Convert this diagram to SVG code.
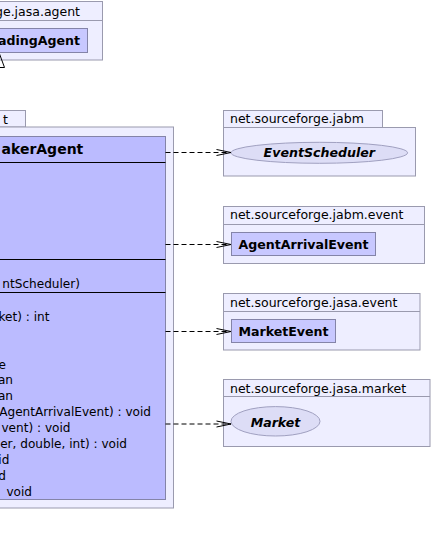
<svg xmlns="http://www.w3.org/2000/svg" width="433" height="546" viewBox="0 0 433 546">
<defs>
<style>
.pkg{fill:#EEEEFF;stroke:#9A9AAE;stroke-width:1}
.cls{fill:#BBBBFF;stroke:#8484A8;stroke-width:1}
.scls{fill:#C8C8FF;stroke:#8484A8;stroke-width:1}
.ell{fill:#DDDDF6;stroke:#A0A0C0;stroke-width:1}
.sep{stroke:#000;stroke-width:1}
.plabel{font-family:"DejaVu Sans",sans-serif;font-size:12.5px;fill:#000}
.cname{font-family:"DejaVu Sans",sans-serif;font-size:12.6px;font-weight:bold;fill:#000}
.iname{font-family:"DejaVu Sans",sans-serif;font-size:12.6px;font-weight:bold;font-style:italic;fill:#000}
.bname{font-family:"DejaVu Sans",sans-serif;font-size:14px;font-weight:bold;fill:#000}
.mem{font-family:"DejaVu Sans",sans-serif;font-size:12.1px;fill:#000;text-anchor:end}
.dep{stroke:#000;stroke-width:1;stroke-dasharray:5,3;fill:none}
</style>
<marker id="open" viewBox="0 0 16 8" refX="15" refY="4" markerWidth="16" markerHeight="8" markerUnits="userSpaceOnUse" orient="auto">
<path d="M0.5,1 L15,4 L0.5,7" fill="none" stroke="#000" stroke-width="1"/>
</marker>
</defs>

<g id="pkg-jasa-agent">
<rect class="pkg" x="-10" y="1.5" width="112.5" height="58.5"/>
<line class="pkg" x1="-10" y1="20.5" x2="102.5" y2="20.5"/>
<text class="plabel" x="80" y="15.5" text-anchor="end">ge.jasa.agent</text>
</g>
<g id="TradingAgent">
<rect class="scls" x="-10" y="28.5" width="97.5" height="24"/>
<text class="cname" x="80" y="45" text-anchor="end">adingAgent</text>
</g>

<g id="pkg-left">
<rect class="pkg" x="-10" y="110.5" width="35.5" height="16.5"/>
<rect class="pkg" x="-10" y="127" width="183.5" height="381"/>
<text class="plabel" x="8" y="124" text-anchor="end">t</text>
</g>
<g id="MarketMakerAgent">
<rect class="cls" x="-10" y="136.5" width="175.5" height="363"/>
<line class="sep" x1="-10" y1="162.5" x2="165.5" y2="162.5"/>
<line class="sep" x1="-10" y1="259.5" x2="165.5" y2="259.5"/>
<line class="sep" x1="-10" y1="292.5" x2="165.5" y2="292.5"/>
<text class="bname" x="83.3" y="154" text-anchor="end">akerAgent</text>
<text class="mem" x="80" y="288">ntScheduler)</text>
<text class="mem" x="49.5" y="320.8">ket) : int</text>
<text class="mem" x="6" y="368.5">e</text>
<text class="mem" x="13" y="384.4">an</text>
<text class="mem" x="13" y="400.3">an</text>
<text class="mem" x="151" y="416.2">(AgentArrivalEvent) : void</text>
<text class="mem" x="70.5" y="432.1">vent) : void</text>
<text class="mem" x="127" y="448">er, double, int) : void</text>
<text class="mem" x="9.3" y="463.9">id</text>
<text class="mem" x="6" y="479.8">d</text>
<text class="mem" x="32" y="495.7">void</text>
</g>

<g id="pkg-jabm">
<rect class="pkg" x="223.5" y="110.5" width="159" height="17"/>
<rect class="pkg" x="223.5" y="127.5" width="192" height="48.5"/>
<text class="plabel" x="230" y="123">net.sourceforge.jabm</text>
</g>
<g id="EventScheduler">
<ellipse class="ell" cx="319.3" cy="152.8" rx="88.3" ry="10.5"/>
<text class="iname" x="319.3" y="157" text-anchor="middle">EventScheduler</text>
</g>

<g id="pkg-jabm-event">
<rect class="pkg" x="223.5" y="206.5" width="201" height="57"/>
<line class="pkg" x1="223.5" y1="224.5" x2="424.5" y2="224.5"/>
<text class="plabel" x="230" y="219.3">net.sourceforge.jabm.event</text>
</g>
<g id="AgentArrivalEvent">
<rect class="scls" x="231.5" y="232.5" width="144" height="23"/>
<text class="cname" x="303.5" y="249" text-anchor="middle">AgentArrivalEvent</text>
</g>

<g id="pkg-jasa-event">
<rect class="pkg" x="223.5" y="293.5" width="196.5" height="56.5"/>
<line class="pkg" x1="223.5" y1="311.5" x2="420" y2="311.5"/>
<text class="plabel" x="230" y="306.7">net.sourceforge.jasa.event</text>
</g>
<g id="MarketEvent">
<rect class="scls" x="231.5" y="319.5" width="104" height="23"/>
<text class="cname" x="283.5" y="336" text-anchor="middle">MarketEvent</text>
</g>

<g id="pkg-jasa-market">
<rect class="pkg" x="223.5" y="379.5" width="206.5" height="67"/>
<line class="pkg" x1="223.5" y1="396.5" x2="430" y2="396.5"/>
<text class="plabel" x="230" y="393.3">net.sourceforge.jasa.market</text>
</g>
<g id="Market">
<ellipse class="ell" cx="275.5" cy="421.3" rx="44.5" ry="14.7"/>
<text class="iname" x="275.5" y="427" text-anchor="middle">Market</text>
</g>

<g id="connectors">
<polygon points="-1,52.5 -6.5,67.5 4.5,67.5" fill="none" stroke="#000" stroke-width="1"/>
<line x1="-1" y1="67.5" x2="-1" y2="136.5" stroke="#000" stroke-width="1"/>
<line class="dep" x1="165.5" y1="152.5" x2="231" y2="152.5" marker-end="url(#open)"/>
<line class="dep" x1="165.5" y1="244.5" x2="231" y2="244.5" marker-end="url(#open)"/>
<line class="dep" x1="165.5" y1="331.5" x2="231" y2="331.5" marker-end="url(#open)"/>
<line class="dep" x1="165.5" y1="424" x2="231" y2="424" marker-end="url(#open)"/>
</g>
</svg>
